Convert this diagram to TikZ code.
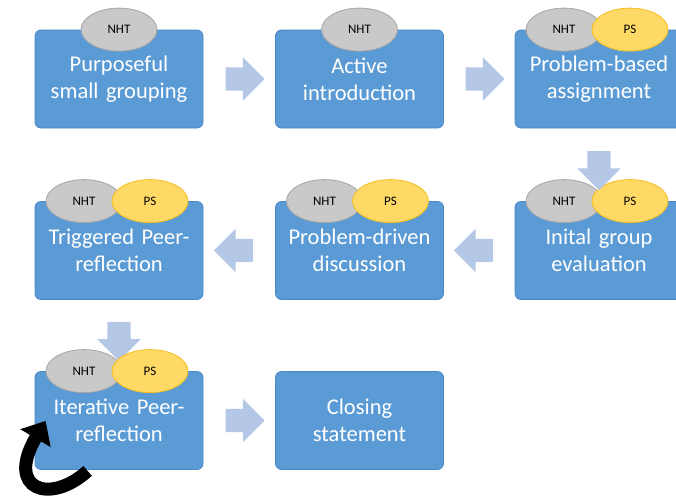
\documentclass[tikz,border=0pt]{standalone}
\usepackage{fontspec}
\setmainfont{Carlito}
\usetikzlibrary{calc,shapes.geometric,shapes.arrows,arrows.meta}
\definecolor{stepBlue}{HTML}{5B9BD5}
\definecolor{stepEdge}{HTML}{4A86C5}
\definecolor{flowBlue}{HTML}{B4C7E7}
\definecolor{nhtFill}{HTML}{C9C9C9}
\definecolor{nhtEdge}{HTML}{A5A5A5}
\definecolor{psFill}{HTML}{FFD966}
\definecolor{psEdge}{HTML}{F5BE1E}
\begin{document}
\begin{tikzpicture}[x=1pt,y=-1pt,
  stepbox/.style={draw=stepEdge, line width=0.8pt, fill=stepBlue, rounded corners=6pt,
    minimum width=168pt, minimum height=98pt, text width=164pt, align=center, inner sep=0pt,
    text=white, font=\fontsize{22.5}{27}\selectfont},
  tagnht/.style={ellipse, draw=nhtEdge, fill=nhtFill, line width=0.8pt, minimum width=76pt,
    minimum height=43pt, inner sep=0pt, font=\fontsize{13}{15}\selectfont},
  tagps/.style={tagnht, draw=psEdge, fill=psFill},
  flow/.style={single arrow, fill=flowBlue, draw=none, inner xsep=0pt, inner ysep=11.5pt,
    minimum height=39pt, single arrow head extend=10pt},
  loopy/.style={line width=13pt, -{Triangle[length=20pt,width=34pt]}}]
\useasboundingbox (0,0) rectangle (676,499);
\node[stepbox] (group) at (119,79) {Purposeful\\small grouping};
\node[stepbox] (intro) at (359.5,79) {Active\\introduction};
\node[stepbox] (assign) at (599,79) {Problem-based\\assignment};
\node[stepbox] (evalu) at (599,250.5) {Inital group\\evaluation};
\node[stepbox] (discuss) at (359.5,250.5) {Problem-driven\\discussion};
\node[stepbox] (trigger) at (119,250.5) {Triggered Peer-\\reflection};
\node[stepbox] (iter) at (119,420.5) {Iterative Peer-\\reflection};
\node[stepbox] (closing) at (359.5,420.5) {Closing\\statement};
\node[tagnht] (nhtA) at (group.north) {NHT};
\node[tagnht] (nhtB) at (intro.north) {NHT};
\node[tagnht, xshift=-35pt] (nhtC) at (assign.north) {NHT};
\node[tagps, xshift=31pt] (psC) at (assign.north) {PS};
\node[tagnht, xshift=-35pt] (nhtD) at (evalu.north) {NHT};
\node[tagps, xshift=31pt] (psD) at (evalu.north) {PS};
\node[tagnht, xshift=-35pt] (nhtE) at (discuss.north) {NHT};
\node[tagps, xshift=31pt] (psE) at (discuss.north) {PS};
\node[tagnht, xshift=-35pt] (nhtF) at (trigger.north) {NHT};
\node[tagps, xshift=31pt] (psF) at (trigger.north) {PS};
\node[flow] (fA) at ($(group.east)!0.5!(intro.west)$) {};
\node[flow] (fB) at ($(intro.east)!0.5!(assign.west)$) {};
\node[flow, rotate=-90] (fC) at ($(assign.south)!0.5!(evalu.north)$) {};
\node[flow, rotate=180] (fD) at ($(evalu.west)!0.5!(discuss.east)$) {};
\node[flow, rotate=180] (fE) at ($(discuss.west)!0.5!(trigger.east)$) {};
\node[flow, rotate=-90] (fF) at ($(trigger.south)!0.5!(iter.north)$) {};
\node[tagnht, xshift=-35pt] (nhtG) at (iter.north) {NHT};
\node[tagps, xshift=31pt] (psG) at (iter.north) {PS};
\node[flow] (fG) at ($(iter.east)!0.5!(closing.west)$) {};
\coordinate (loopS) at ($(iter.south west)+(53,1)$);
\coordinate (loopE) at ($(iter.south west)+(11,-49)$);
\draw[loopy] (loopS) .. controls (50,505) and (5,490) .. (loopE);
\end{tikzpicture}
\end{document}
